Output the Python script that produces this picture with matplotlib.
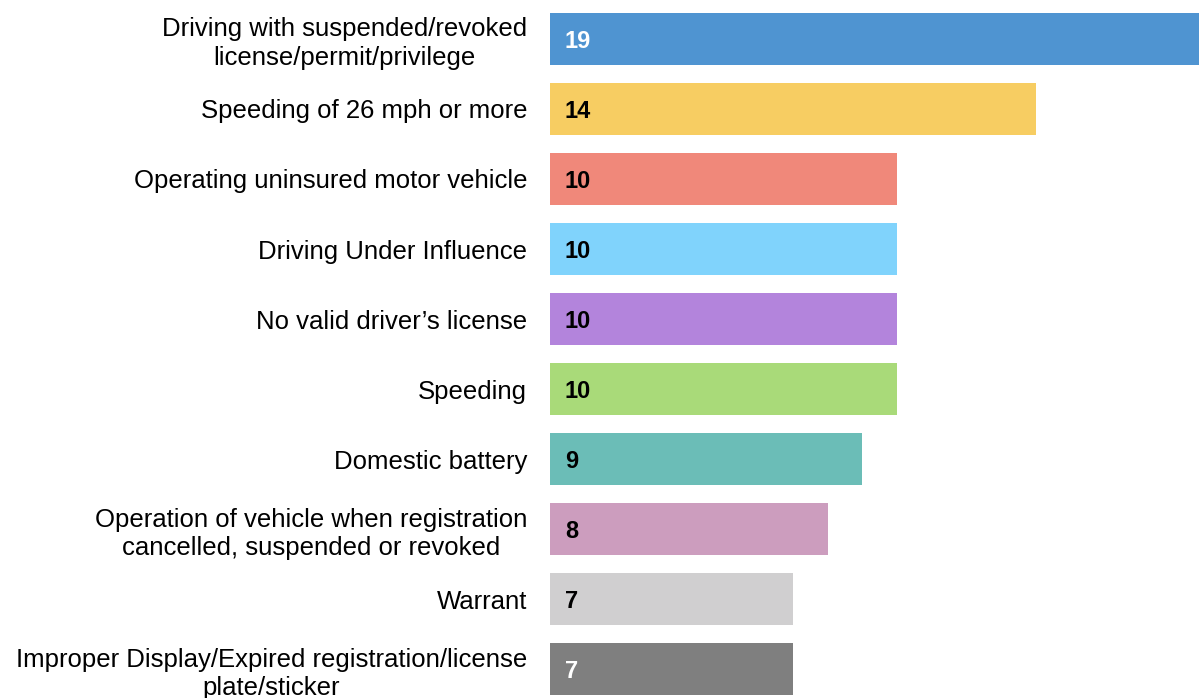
import matplotlib.pyplot as plt

categories = [
    "Driving with suspended/revoked\nlicense/permit/privilege",
    "Speeding of 26 mph or more",
    "Operating uninsured motor vehicle",
    "Driving Under Influence",
    "No valid driver\u2019s license",
    "Speeding",
    "Domestic battery",
    "Operation of vehicle when registration\ncancelled, suspended or revoked",
    "Warrant",
    "Improper Display/Expired registration/license\nplate/sticker",
]
counts = [19, 14, 10, 10, 10, 10, 9, 8, 7, 7]
colors = ["#4F94D1", "#F7CD62", "#F0887A", "#80D3FC", "#B384DC",
          "#A9DA79", "#6BBDB7", "#CC9DBE", "#D0CFD0", "#7F7F7F"]
label_colors = ["white", "black", "black", "black", "black",
                "black", "black", "black", "black", "white"]

plt.rcParams['font.family'] = ['Liberation Sans', 'DejaVu Sans']

fig = plt.figure(figsize=(11.99, 6.98), dpi=100)
ax = fig.add_axes([550 / 1199, 0, 649 / 1199, 1])

y = list(range(len(categories)))
ax.barh(y, counts, height=0.74, color=colors)

for yi, v, c in zip(y, counts, label_colors):
    ax.text(0.43, yi, str(v), va='center_baseline', ha='left', fontsize=17,
            fontweight='bold', color=c)

ax.set_yticks(y)
ax.set_yticklabels(categories, fontsize=18.5, multialignment='center',
                   linespacing=1.22)
ax.tick_params(axis='y', length=0, pad=16.5)
ax.set_xticks([])
ax.set_xlim(0, 18.7)
ax.set_ylim(9.414, -0.557)
for s in ax.spines.values():
    s.set_visible(False)

fig.savefig("out.png", dpi=100)
